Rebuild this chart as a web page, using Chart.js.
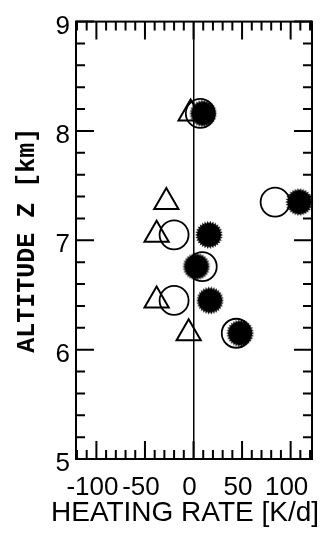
<!DOCTYPE html>
<html lang="en">

<head>
  <meta charset="UTF-8">
  <title>Heating rate profile</title>
  <script src="https://cdn.jsdelivr.net/npm/chart.js"></script>
  <style>
    body { margin: 0; background: #fff; }
  </style>
</head>

<body>
  <canvas id="chartHeating" width="329" height="538"></canvas>

  <script>
    // altitude levels [km]
    const altTriangle = [8.16, 7.35, 7.05, 6.45, 6.15];
    const altCircle = [8.16, 7.35, 7.05, 6.76, 6.45, 6.15];
    const altSun = [8.16, 7.35, 7.05, 6.76, 6.45, 6.15];

    // heating rates [K/d]
    const rateTriangle = [-3, -28, -38, -38, -5];
    const rateCircle = [7, 84, -20, 9, -20, 44];
    const rateSun = [10, 109, 16, 3, 17, 48];

    const xTicks = [-100, -50, 0, 50, 100];
    const yTicks = [5, 6, 7, 8, 9];
    const xTitle = 'HEATING RATE [K/d]';

    function points(xs, ys) {
      return xs.map((x, i) => ({ x: x, y: ys[i] }));
    }

    // filled "sunburst" marker
    function makeSun(r) {
      const c = document.createElement('canvas');
      c.width = c.height = r * 2 + 2;
      const g = c.getContext('2d');
      const cx = r + 1, n = 30;
      g.beginPath();
      for (let i = 0; i < n * 2; i++) {
        const a = Math.PI * i / n;
        const rr = i % 2 ? r - 2.5 : r;
        g.lineTo(cx + Math.cos(a) * rr, cx + Math.sin(a) * rr);
      }
      g.closePath();
      g.fillStyle = '#000';
      g.fill();
      return c;
    }

    // frame + inward tick marks on all four sides, x title
    const frameTicks = {
      id: 'frameTicks',
      beforeDatasetsDraw(chart) {
        const { ctx, chartArea: a, scales: { x, y } } = chart;
        ctx.save();
        ctx.strokeStyle = '#000';
        ctx.lineWidth = 2;
        ctx.strokeRect(a.left, a.top, a.right - a.left, a.bottom - a.top);
        ctx.beginPath();
        for (let v = -120; v <= x.max; v += 10) {
          if (v < x.min) continue;
          const px = x.getPixelForValue(v);
          const len = v % 50 === 0 ? 18 : 9;
          ctx.moveTo(px, a.top); ctx.lineTo(px, a.top + len);
          ctx.moveTo(px, a.bottom); ctx.lineTo(px, a.bottom - len);
        }
        for (let k = 0; k <= 20; k++) {
          const v = 5 + k * 0.2;
          const py = y.getPixelForValue(v);
          const len = k % 5 === 0 ? 18 : 9;
          ctx.moveTo(a.left, py); ctx.lineTo(a.left + len, py);
          ctx.moveTo(a.right, py); ctx.lineTo(a.right - len, py);
        }
        ctx.stroke();
        ctx.restore();
      },
      afterDraw(chart) {
        const ctx = chart.ctx;
        ctx.save();
        ctx.fillStyle = '#000';
        ctx.font = '28px "Liberation Sans"';
        ctx.textAlign = 'center';
        ctx.textBaseline = 'middle';
        ctx.fillText(xTitle, 185, 513, 268);
        ctx.restore();
      }
    };

    new Chart(document.getElementById('chartHeating'), {
      type: 'scatter',
      data: {
        datasets: [{
          label: 'sun',
          data: points(rateSun, altSun),
          pointStyle: makeSun(14),
          order: 0,
          clip: false
        }, {
          label: 'circle',
          data: points(rateCircle, altCircle),
          pointStyle: 'circle',
          pointRadius: 14.5,
          borderColor: '#000',
          backgroundColor: 'rgba(0,0,0,0)',
          borderWidth: 1.8,
          order: 1,
          clip: false
        }, {
          label: 'triangle',
          data: points(rateTriangle, altTriangle),
          pointStyle: 'triangle',
          pointRadius: 14,
          borderColor: '#000',
          backgroundColor: 'rgba(0,0,0,0)',
          borderWidth: 2,
          order: 2,
          clip: false
        }]
      },
      options: {
        responsive: false,
        animation: false,
        devicePixelRatio: 1,
        layout: { padding: { top: 15, right: 17, left: 0, bottom: 0 } },
        plugins: { legend: { display: false }, tooltip: { enabled: false } },
        scales: {
          x: {
            type: 'linear',
            min: -121,
            max: 122,
            afterFit: s => { s.height = 79; },
            afterBuildTicks: s => { s.ticks = xTicks.map(v => ({ value: v })); },
            border: { display: false },
            grid: {
              drawTicks: false,
              lineWidth: 1.5,
              color: c => c.tick && c.tick.value === 0 ? '#000' : 'rgba(0,0,0,0)'
            },
            ticks: {
              autoSkip: false,
              maxRotation: 0,
              padding: 13,
              labelOffset: -4,
              color: '#000',
              font: { family: 'Liberation Sans', size: 26 }
            }
          },
          y: {
            type: 'linear',
            min: 5,
            max: 9,
            afterFit: s => { s.width = 76; },
            afterBuildTicks: s => { s.ticks = yTicks.map(v => ({ value: v })); },
            border: { display: false },
            grid: { display: false, drawTicks: false },
            ticks: {
              padding: 6,
              labelOffset: 5,
              color: '#000',
              font: { family: 'Liberation Sans', size: 26 }
            },
            title: {
              display: true,
              text: 'ALTITUDE Z [km]',
              color: '#000',
              padding: { top: 13, bottom: 0 },
              font: { family: 'Liberation Mono', size: 25, weight: 'bold' }
            }
          }
        }
      },
      plugins: [frameTicks]
    });
  </script>
</body>

</html>
